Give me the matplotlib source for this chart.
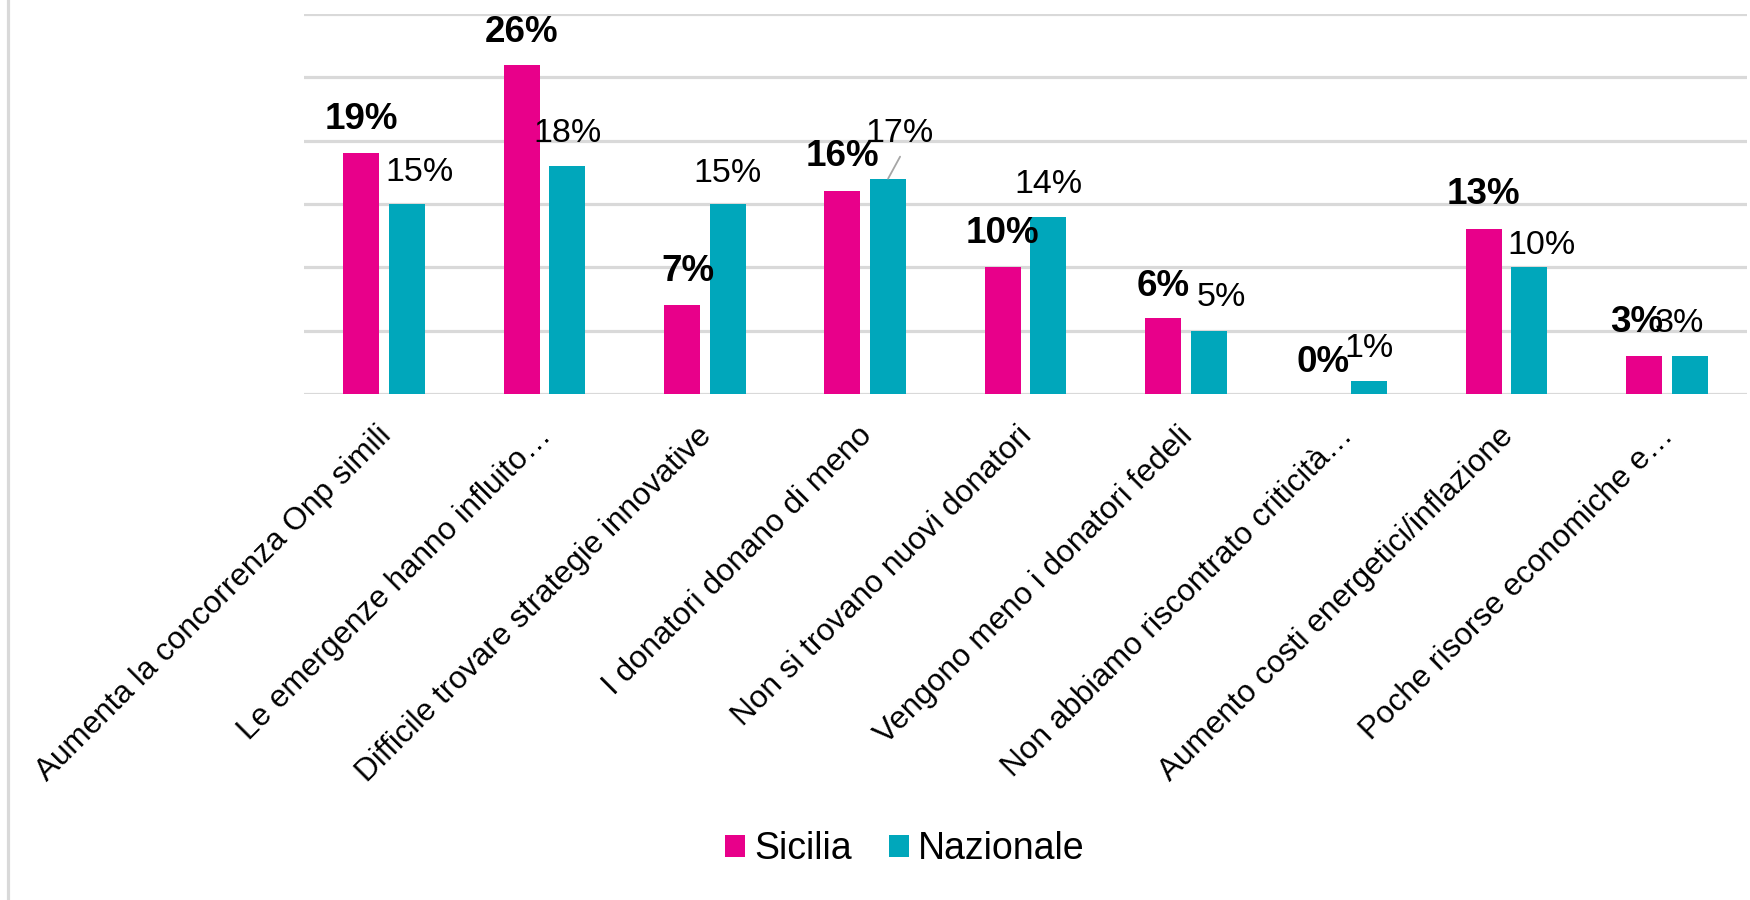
import matplotlib.pyplot as plt
import numpy as np
from matplotlib.lines import Line2D
from matplotlib.transforms import offset_copy

plt.rcParams['font.family'] = ['Liberation Sans', 'DejaVu Sans']

categorie = [
    "Aumenta la concorrenza Onp simili",
    "Le emergenze hanno influito…",
    "Difficile trovare strategie innovative",
    "I donatori donano di meno",
    "Non si trovano nuovi donatori",
    "Vengono meno i donatori fedeli",
    "Non abbiamo riscontrato criticità…",
    "Aumento costi energetici/inflazione",
    "Poche risorse economiche e…",
]
sicilia = [19, 26, 7, 16, 10, 6, 0, 13, 3]
nazionale = [15, 18, 15, 17, 14, 5, 1, 10, 3]

col_sicilia = "#E8008A"
col_nazionale = "#00A7BB"
col_griglia = "#D9D9D9"

# spostamenti manuali delle etichette (pixel: dx, distanza dalla cima della barra)
off_sicilia = [(0, 24), (0, 23), (6, 24), (0, 25), (0, 24), (0, 22), (0, 22), (0, 25), (-7, 24)]
off_nazionale = [(12, 23), (0, 24), (0, 22), (11, 37), (0, 24), (13, 25), (0, 24), (12, 13), (-10, 24)]

fig = plt.figure(figsize=(17.5, 9), dpi=100)
ax = fig.add_axes([304 / 1750, 1 - 394 / 900, 1443 / 1750, 380 / 900])

x = np.arange(len(categorie))
w = 0.225
d = 0.143
ax.bar(x - d, sicilia, w, color=col_sicilia, label="Sicilia", zorder=3)
ax.bar(x + d, nazionale, w, color=col_nazionale, label="Nazionale", zorder=3)

ax.set_xlim(-0.5, len(categorie) - 0.5)
ax.set_ylim(0, 30)
ax.set_yticks(np.arange(0, 31, 5))
ax.yaxis.grid(True, color=col_griglia, linewidth=2.3, zorder=0)
ax.tick_params(axis="y", length=0, labelleft=False)
for s in ax.spines.values():
    s.set_visible(False)

ax.set_xticks(x)
ax.set_xticklabels(categorie, rotation=45, ha="right", va="baseline",
                   rotation_mode="anchor", fontsize=22.7)
ax.tick_params(axis="x", length=0, pad=31)
for lab in ax.get_xticklabels():
    lab.set_transform(offset_copy(lab.get_transform(), fig=fig, x=8, y=0, units="dots"))

# etichette dei valori
for i, v in enumerate(sicilia):
    dx, dy = off_sicilia[i]
    ax.annotate(f"{v}%", (x[i] - d, v), xytext=(dx, dy), textcoords="offset pixels",
                ha="center", va="baseline", fontsize=26.5, fontweight="bold", zorder=5)
for i, v in enumerate(nazionale):
    dx, dy = off_nazionale[i]
    ax.annotate(f"{v}%", (x[i] + d, v), xytext=(dx, dy), textcoords="offset pixels",
                ha="center", va="baseline", fontsize=24.5, zorder=5)

# linea guida per l'etichetta spostata (17%)
ax.annotate("", (x[3] + d, nazionale[3]), xytext=(12, 22), textcoords="offset pixels",
            arrowprops=dict(arrowstyle="-", color="#A6A6A6", lw=1.3, shrinkA=0, shrinkB=0))

ax.legend(loc="center", bbox_to_anchor=(905 / 1750, 1 - 849 / 900),
          bbox_transform=fig.transFigure, ncol=2, frameon=False, fontsize=27,
          handlelength=0.53, handleheight=0.53, handletextpad=0.24,
          columnspacing=1.0)

# bordo sinistro dell'area del grafico
fig.add_artist(Line2D([7.5 / 1750, 7.5 / 1750], [0, 1], color=col_griglia,
                      linewidth=2.3, transform=fig.transFigure))

plt.savefig("out.png")
